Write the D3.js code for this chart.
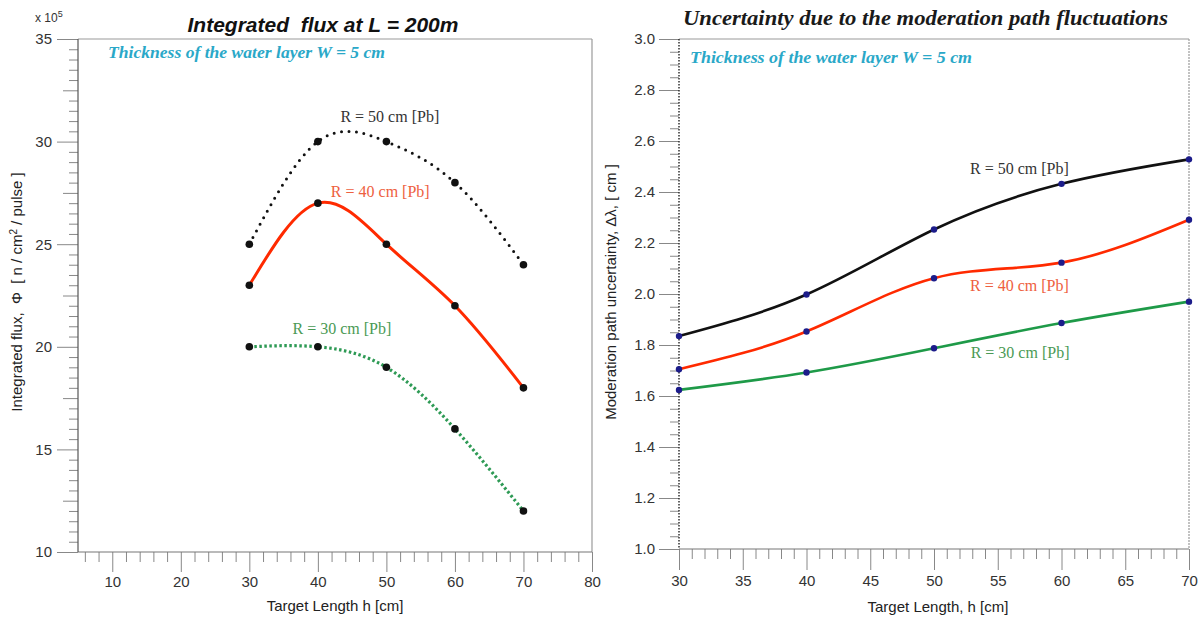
<!DOCTYPE html>
<html><head><meta charset="utf-8">
<script src="https://cdn.jsdelivr.net/npm/d3@7"></script>
<style>
html,body{margin:0;padding:0;background:#fff;}
svg{display:block;}
text{font-family:"Liberation Sans",Arial,sans-serif;}
.serif{font-family:"Liberation Serif","Times New Roman",serif;}
</style></head>
<body>
<svg id="chart" width="1202" height="621"></svg>
<script>
// ---------- data ----------
const targetLength = [30, 40, 50, 60, 70];
// left panel: integrated flux (x 10^5 n/cm2/pulse)
const fluxR50 = [25, 30, 30, 28, 24];
const fluxR40 = [23, 27, 25, 22, 18];
const fluxR30 = [20, 20, 19, 16, 12];
// right panel: moderation path uncertainty (cm)
const uncR50 = [1.835, 1.998, 2.253, 2.432, 2.528];
const uncR40 = [1.705, 1.853, 2.062, 2.123, 2.291];
const uncR30 = [1.624, 1.692, 1.787, 1.886, 1.970];
const seriesNames = ["R = 50 cm [Pb]", "R = 40 cm [Pb]", "R = 30 cm [Pb]"];
// label anchor positions in data units
const leftLabelX = [50.5, 49.1, 43.5];
const leftLabelY = [31.2, 27.55, 20.9];
const rightLabelX = [56.7, 56.7, 56.75];
const rightLabelY = [2.494, 2.035, 1.769];
// ticks
const leftXMajor = [10, 20, 30, 40, 50, 60, 70, 80];
const leftYMajor = [10, 15, 20, 25, 30, 35];
const rightXMajor = [30, 35, 40, 45, 50, 55, 60, 65, 70];
const rightYMajor = [1.0, 1.2, 1.4, 1.6, 1.8, 2.0, 2.2, 2.4, 2.6, 2.8, 3.0];

const svg = d3.select("#chart");

// ---------- helpers ----------
function drawFrame(g, x, y, leftDotted) {
  const [x0, x1] = x.range(), [y0, y1] = y.range();
  g.append("line").attr("x1", x0).attr("x2", x1).attr("y1", y1).attr("y2", y1)
    .attr("stroke", "#9a9a9a").attr("stroke-width", 1.2);
  g.append("line").attr("x1", x1).attr("x2", x1).attr("y1", y1).attr("y2", y0)
    .attr("stroke", "#9a9a9a").attr("stroke-width", 1.2).attr("stroke-dasharray", leftDotted ? "2 1" : null);
  g.append("line").attr("x1", x0).attr("x2", x1).attr("y1", y0).attr("y2", y0)
    .attr("stroke", "#777").attr("stroke-width", 1.2);
  g.append("line").attr("x1", x0).attr("x2", x0).attr("y1", y1).attr("y2", y0)
    .attr("stroke", leftDotted ? "#222" : "#555").attr("stroke-width", leftDotted ? 1.4 : 1.2)
    .attr("stroke-dasharray", leftDotted ? "1.5 1.5" : null);
}
function tickAxis(g, axis, tx, ty) {
  const a = g.append("g").attr("transform", `translate(${tx},${ty})`).call(axis);
  a.select(".domain").remove();
  a.selectAll(".tick line").attr("stroke", "#888").attr("stroke-width", 1);
  a.selectAll(".tick text").attr("fill", "#333").style("font-size", "15px")
    .style("font-family", '"Liberation Sans",Arial,sans-serif');
  return a;
}

// ---------- LEFT PANEL ----------
const xL = d3.scaleLinear().domain([5, 80]).range([78, 592]);
const yL = d3.scaleLinear().domain([10, 35]).range([552, 39]);
const gL = svg.append("g");

tickAxis(gL, d3.axisBottom(xL).tickValues(d3.range(6, 80, 2).filter(v => v % 10 !== 0)).tickSize(10).tickFormat(""), 0, 552);
tickAxis(gL, d3.axisBottom(xL).tickValues(leftXMajor).tickSize(20).tickPadding(4).tickFormat(d3.format("d")), 0, 552);
tickAxis(gL, d3.axisLeft(yL).tickValues(d3.range(10.5, 35, 0.5).filter(v => v % 2.5 !== 0)).tickSize(9).tickFormat(""), 78, 0);
tickAxis(gL, d3.axisLeft(yL).tickValues(d3.range(12.5, 35, 5)).tickSize(15).tickFormat(""), 78, 0);
tickAxis(gL, d3.axisLeft(yL).tickValues(leftYMajor).tickSize(21).tickPadding(5).tickFormat(d3.format("d")), 78, 0);
drawFrame(gL, xL, yL, false);

const lineL = d3.line().x((d, i) => xL(targetLength[i])).y(d => yL(d)).curve(d3.curveNatural);
gL.append("path").datum(fluxR50).attr("d", lineL).attr("fill", "none")
  .attr("stroke", "#111").attr("stroke-width", 3).attr("stroke-linecap", "round").attr("stroke-dasharray", "0 7.5");
gL.append("path").datum(fluxR40).attr("d", lineL).attr("fill", "none")
  .attr("stroke", "#ff2a00").attr("stroke-width", 3);
gL.append("path").datum(fluxR30).attr("d", lineL).attr("fill", "none")
  .attr("stroke", "#2e9a55").attr("stroke-width", 3.2).attr("stroke-dasharray", "2.5 2.5");
[fluxR50, fluxR40, fluxR30].forEach(s => {
  gL.selectAll(null).data(s).enter().append("circle")
    .attr("cx", (d, i) => xL(targetLength[i])).attr("cy", d => yL(d)).attr("r", 3.8).attr("fill", "#111");
});
const labelColors = ["#333", "#ee6040", "#4a9a55"];
seriesNames.forEach((n, i) => {
  gL.append("text").attr("class", "serif").attr("x", xL(leftLabelX[i])).attr("y", yL(leftLabelY[i]))
    .attr("text-anchor", "middle").attr("dominant-baseline", "central")
    .style("font-size", "16px").attr("fill", labelColors[i]).text(n);
});
// texts
gL.append("text").attr("x", 323).attr("y", 32).attr("text-anchor", "middle")
  .style("font-size", "21px").style("font-weight", "bold").style("font-style", "italic")
  .style("white-space", "pre").attr("fill", "#111").text("Integrated  flux at L = 200m");
gL.append("text").attr("class", "serif").attr("x", 108).attr("y", 58)
  .attr("textLength", 277).attr("lengthAdjust", "spacingAndGlyphs")
  .style("font-size", "16px").style("font-weight", "bold").style("font-style", "italic")
  .attr("fill", "#2aa8c8").text("Thickness of the water layer W = 5 cm");
const pw = gL.append("text").attr("x", 35).attr("y", 22).style("font-size", "12px").attr("fill", "#333");
pw.append("tspan").text("x 10");
pw.append("tspan").attr("dy", -5).style("font-size", "9px").text("5");
gL.append("text").attr("x", 335).attr("y", 611).attr("text-anchor", "middle")
  .style("font-size", "15px").attr("fill", "#222").text("Target Length h [cm]");
const ytL = gL.append("text").attr("transform", "translate(22,292) rotate(-90)").attr("text-anchor", "middle")
  .style("font-size", "15px").style("white-space", "pre").attr("fill", "#222");
ytL.append("tspan").text("Integrated flux,  Φ  [ n / cm");
ytL.append("tspan").attr("dy", -5).style("font-size", "10px").text("2");
ytL.append("tspan").attr("dy", 5).text(" / pulse ]");

// ---------- RIGHT PANEL ----------
const xR = d3.scaleLinear().domain([30, 70]).range([679, 1189]);
const yR = d3.scaleLinear().domain([1, 3]).range([549, 39]);
const gR = svg.append("g");
tickAxis(gR, d3.axisBottom(xR).tickValues(d3.range(31, 70, 1).filter(v => v % 5 !== 0)).tickSize(10).tickFormat(""), 0, 549);
tickAxis(gR, d3.axisBottom(xR).tickValues(rightXMajor).tickSize(21).tickPadding(5).tickFormat(d3.format("d")), 0, 549);
tickAxis(gR, d3.axisLeft(yR).tickValues(d3.range(1.05, 3, 0.05).filter(v => Math.abs(v * 5 - Math.round(v * 5)) > 1e-6)).tickSize(9).tickFormat(""), 679, 0);
tickAxis(gR, d3.axisLeft(yR).tickValues(rightYMajor).tickSize(20).tickPadding(4).tickFormat(d3.format(".1f")), 679, 0);
drawFrame(gR, xR, yR, true);

const lineR = d3.line().x((d, i) => xR(targetLength[i])).y(d => yR(d)).curve(d3.curveNatural);
const rColors = ["#111", "#ff2a00", "#1e9a48"];
[uncR50, uncR40, uncR30].forEach((s, k) => {
  gR.append("path").datum(s).attr("d", lineR).attr("fill", "none")
    .attr("stroke", rColors[k]).attr("stroke-width", 2.6);
});
[uncR50, uncR40, uncR30].forEach(s => {
  gR.selectAll(null).data(s).enter().append("circle")
    .attr("cx", (d, i) => xR(targetLength[i])).attr("cy", d => yR(d)).attr("r", 3.2).attr("fill", "#1c1c8a");
});
seriesNames.forEach((n, i) => {
  gR.append("text").attr("class", "serif").attr("x", xR(rightLabelX[i])).attr("y", yR(rightLabelY[i]))
    .attr("text-anchor", "middle").attr("dominant-baseline", "central")
    .style("font-size", "16px").attr("fill", labelColors[i]).text(n);
});
gR.append("text").attr("class", "serif").attr("x", 683).attr("y", 25)
  .attr("textLength", 485).attr("lengthAdjust", "spacingAndGlyphs")
  .style("font-size", "22px").style("font-style", "italic").style("font-weight", "bold")
  .attr("fill", "#1a1a1a").text("Uncertainty due to the moderation path fluctuations");
gR.append("text").attr("class", "serif").attr("x", 690).attr("y", 63)
  .attr("textLength", 282).attr("lengthAdjust", "spacingAndGlyphs")
  .style("font-size", "16px").style("font-weight", "bold").style("font-style", "italic")
  .attr("fill", "#2aa8c8").text("Thickness of the water layer W = 5 cm");
gR.append("text").attr("x", 938).attr("y", 612).attr("text-anchor", "middle")
  .style("font-size", "15px").attr("fill", "#222").text("Target Length, h [cm]");
gR.append("text").attr("transform", "translate(616,292) rotate(-90)").attr("text-anchor", "middle")
  .style("font-size", "15px").attr("fill", "#222").text("Moderation path uncertainty, Δλ, [ cm ]");
</script>
</body></html>
